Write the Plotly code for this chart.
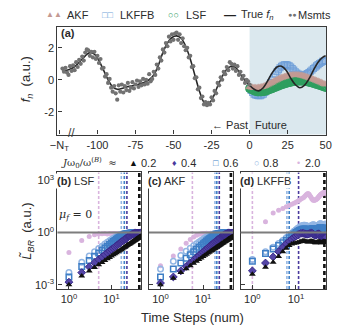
import math
import plotly.graph_objects as go

# ---------------- panel (a) data ----------------
msmt_steps = list(range(-123, 1))
msmt_f = [0.7, 0.5, 0.75, 0.45, 0.3, 0.85, 0.55, 0.9, 0.6, 1.1,
          0.8, 1.25, 1.0, 1.45, 1.2, 1.7, 1.9, 1.85, 1.5, 1.75,
          1.4, 1.75, 1.3, 1.5, 1.05, 1.3, 0.7, 0.75, 0.2, 0.35,
          -0.2, 0.05, -0.5, -0.75, -0.4, -0.85, -1.25, -0.35, -0.75, -0.3,
          -0.8, -0.4, -0.65, -0.2, -0.7, -0.5, -0.15, -0.55, -0.3, -0.05,
          -0.45, -0.1, -0.35, 0.05, -0.3, 0.0, -0.25, 0.35, -0.1, 0.05,
          0.5, 0.3, 0.95, 0.7, 1.4, 1.2, 1.9, 1.7, 2.3, 2.1,
          2.7, 2.4, 2.85, 2.5, 2.9, 2.95, 2.5, 2.85, 2.3, 2.6,
          2.1, 1.85, 2.0, 1.4, 1.5, 0.8, 0.85, 0.1, 0.15, -0.6,
          -0.5, -1.15, -1.05, -1.55, -1.4, -1.6, -1.45, -1.55, -1.1, -1.3,
          -0.7, -0.85, -0.2, -0.35, 0.15, 0.0, 0.5, 0.35, 0.8, 0.6,
          1.1, 1.0, 0.7, 0.95, 0.55, 0.85, 0.3, 0.5, 0.05, 0.25,
          -0.2, 0.0, -0.1, -0.3]

true_steps = [-123, -120, -117, -114, -111, -108, -105, -102, -99, -96,
              -93, -90, -87, -84, -81, -78, -75, -72, -69, -66,
              -63, -60, -57, -54, -51, -48, -45, -42, -39, -36,
              -33, -30, -27, -24, -21, -18, -15, -12, -9, -6,
              -3, 0, 3, 6, 9, 12, 15, 18, 21, 24,
              27, 30, 33, 36, 39, 42, 45, 48, 50]
true_f = [0.6, 0.6, 0.7, 0.9, 1.2, 1.5, 1.7, 1.6, 1.2, 0.6,
          0.0, -0.45, -0.6, -0.55, -0.45, -0.4, -0.35, -0.25, -0.15, 0.0,
          0.3, 0.9, 1.7, 2.3, 2.65, 2.75, 2.6, 2.1, 1.3, 0.3,
          -0.7, -1.4, -1.5, -1.1, -0.4, 0.2, 0.65, 0.85, 0.75, 0.35,
          -0.05, -0.35, -0.6, -0.7, -0.5, -0.05, 0.45, 0.8, 0.85, 0.6,
          0.1, -0.3, -0.5, -0.35, 0.05, 0.6, 1.1, 1.4, 1.5]

future_steps = list(range(0, 51))
lsf_pred = [-0.55, -0.6, -0.65, -0.69, -0.72, -0.75, -0.76, -0.76, -0.75, -0.74,
            -0.72, -0.69, -0.66, -0.62, -0.58, -0.55, -0.51, -0.47, -0.43, -0.39,
            -0.35, -0.32, -0.29, -0.25, -0.22, -0.2, -0.17, -0.15, -0.13, -0.11,
            -0.1, -0.09, -0.08, -0.08, -0.08, -0.08, -0.09, -0.11, -0.13, -0.15,
            -0.18, -0.2, -0.23, -0.26, -0.29, -0.32, -0.35, -0.38, -0.42, -0.45, -0.48]
akf_pred = [-0.45, -0.47, -0.49, -0.5, -0.5, -0.5, -0.49, -0.47, -0.45, -0.42,
            -0.4, -0.35, -0.3, -0.25, -0.2, -0.15, -0.1, -0.05, 0.0, 0.05,
            0.1, 0.13, 0.16, 0.19, 0.22, 0.25, 0.27, 0.28, 0.29, 0.3,
            0.3, 0.3, 0.29, 0.28, 0.27, 0.25, 0.22, 0.19, 0.16, 0.13,
            0.1, 0.06, 0.02, -0.02, -0.06, -0.1, -0.14, -0.18, -0.22, -0.26, -0.3]
lkffb_pred = [-0.55, -0.67, -0.79, -0.9, -0.95, -0.98, -1.0, -1.0, -0.96, -0.9,
              -0.8, -0.66, -0.5, -0.34, -0.17, 0.0, 0.17, 0.34, 0.5, 0.63,
              0.75, 0.85, 0.91, 0.94, 0.95, 0.92, 0.87, 0.8, 0.7, 0.6,
              0.5, 0.42, 0.35, 0.3, 0.28, 0.28, 0.3, 0.34, 0.39, 0.45,
              0.53, 0.61, 0.7, 0.78, 0.87, 0.95, 1.02, 1.08, 1.15, 1.18, 1.2]

xtick_vals_a = [-125, -100, -75, -50, -25, 0, 25, 50]
xtick_text_a = ["\u2212N<sub>T</sub>", "-100", "-75", "-50", "-25", "0", "25", "50"]

# ---------------- panels (b)-(d): log10 of L_BR at time steps 1,2,3,... ----------------
ratio_labels = ["0.2", "0.4", "0.6", "0.8", "2.0"]

lsf_log_02 = [-3.00, -2.50, -2.21, -2.01, -1.85, -1.72, -1.61, -1.51, -1.43, -1.35,
              -1.28, -1.22, -1.16, -1.11, -1.06, -1.01, -0.97, -0.93, -0.89, -0.85,
              -0.82, -0.79, -0.75, -0.72, -0.69, -0.67, -0.64, -0.61, -0.59, -0.56,
              -0.54, -0.52, -0.49, -0.47, -0.45, -0.43, -0.41, -0.39, -0.37, -0.36,
              -0.34, -0.32, -0.31, -0.29, -0.27, -0.26, -0.24, -0.23, -0.21, -0.20]
lsf_log_04 = [-2.85, -2.30, -1.97, -1.73, -1.55, -1.40, -1.27, -1.16, -1.06, -0.98,
              -0.90, -0.83, -0.76, -0.70, -0.64, -0.59, -0.54, -0.49, -0.45, -0.41,
              -0.37, -0.34, -0.30, -0.27, -0.24, -0.21, -0.19, -0.16, -0.14, -0.12,
              -0.10, -0.09, -0.07, -0.06, -0.05, -0.05, -0.04, -0.04, -0.04, -0.03,
              -0.03, -0.03, -0.03, -0.02, -0.02, -0.02, -0.02, -0.02, -0.02, -0.02]
lsf_log_06 = [-2.55, -1.95, -1.60, -1.36, -1.17, -1.02, -0.89, -0.78, -0.68, -0.60,
              -0.52, -0.45, -0.39, -0.33, -0.28, -0.24, -0.20, -0.17, -0.14, -0.12,
              -0.10, -0.08, -0.07, -0.06, -0.05, -0.05, -0.04, -0.04, -0.04, -0.03,
              -0.03, -0.03, -0.03, -0.03, -0.02, -0.02, -0.02, -0.02, -0.02, -0.02,
              -0.02, -0.02, -0.02, -0.02, -0.02, -0.01, -0.01, -0.01, -0.01, -0.01]
lsf_log_08 = [-2.30, -1.70, -1.35, -1.10, -0.92, -0.78, -0.66, -0.56, -0.47, -0.40,
              -0.34, -0.28, -0.24, -0.20, -0.16, -0.13, -0.11, -0.09, -0.07, -0.06,
              -0.05, -0.05, -0.04, -0.04, -0.03, -0.03, -0.03, -0.03, -0.02, -0.02,
              -0.02, -0.02, -0.02, -0.02, -0.02, -0.01, -0.01, -0.01, -0.01, -0.01,
              -0.01, -0.01, -0.01, -0.01, -0.01, -0.01, -0.01, -0.01, -0.01, -0.01]
lsf_log_20 = [-1.15, -0.45, -0.22, -0.12, -0.08, -0.07, -0.06, -0.08, -0.05, -0.07,
              -0.06, -0.05, -0.07, -0.06, -0.05, -0.06, -0.07, -0.05, -0.06, -0.05,
              -0.06, -0.05, -0.07, -0.06, -0.05, -0.06, -0.05, -0.06, -0.07, -0.05,
              -0.06, -0.05, -0.06, -0.05, -0.07, -0.06, -0.05, -0.06, -0.05, -0.06,
              -0.05, -0.06, -0.07, -0.05, -0.06, -0.05, -0.06, -0.05, -0.06, -0.05]

akf_log_02 = [-3.00, -2.62, -2.30, -2.08, -1.91, -1.77, -1.65, -1.55, -1.46, -1.38,
              -1.31, -1.24, -1.18, -1.13, -1.08, -1.03, -0.99, -0.95, -0.91, -0.87,
              -0.83, -0.80, -0.77, -0.74, -0.71, -0.68, -0.65, -0.63, -0.60, -0.58,
              -0.55, -0.53, -0.51, -0.49, -0.47, -0.45, -0.43, -0.41, -0.39, -0.37,
              -0.36, -0.34, -0.33, -0.31, -0.30, -0.28, -0.27, -0.25, -0.24, -0.23]
akf_log_04 = [-2.90, -2.55, -2.20, -1.95, -1.75, -1.58, -1.44, -1.32, -1.21, -1.12,
              -1.03, -0.95, -0.88, -0.81, -0.75, -0.69, -0.64, -0.59, -0.54, -0.50,
              -0.46, -0.42, -0.38, -0.35, -0.31, -0.28, -0.25, -0.22, -0.20, -0.17,
              -0.15, -0.13, -0.11, -0.09, -0.08, -0.07, -0.06, -0.05, -0.05, -0.04,
              -0.04, -0.04, -0.03, -0.03, -0.03, -0.03, -0.02, -0.02, -0.02, -0.02]
akf_log_06 = [-2.55, -2.10, -1.75, -1.48, -1.27, -1.10, -0.96, -0.84, -0.73, -0.64,
              -0.56, -0.49, -0.42, -0.36, -0.31, -0.26, -0.22, -0.18, -0.15, -0.12,
              -0.10, -0.08, -0.07, -0.06, -0.05, -0.05, -0.04, -0.04, -0.03, -0.03,
              -0.03, -0.03, -0.02, -0.02, -0.02, -0.02, -0.02, -0.02, -0.02, -0.02,
              -0.02, -0.02, -0.01, -0.01, -0.01, -0.01, -0.01, -0.01, -0.01, -0.01]
akf_log_08 = [-2.10, -1.65, -1.32, -1.08, -0.90, -0.76, -0.64, -0.54, -0.45, -0.38,
              -0.32, -0.27, -0.22, -0.18, -0.15, -0.12, -0.10, -0.08, -0.06, -0.05,
              -0.05, -0.04, -0.04, -0.03, -0.03, -0.03, -0.02, -0.02, -0.02, -0.02,
              -0.02, -0.02, -0.01, -0.01, -0.01, -0.01, -0.01, -0.01, -0.01, -0.01,
              -0.01, -0.01, -0.01, -0.01, -0.01, -0.01, -0.01, -0.01, -0.01, -0.01]
akf_log_20 = [-1.90, -1.35, -0.95, -0.62, -0.40, -0.25, -0.16, -0.10, -0.07, -0.05,
              -0.06, -0.04, -0.05, -0.06, -0.04, -0.05, -0.04, -0.06, -0.05, -0.04,
              -0.05, -0.04, -0.05, -0.06, -0.04, -0.05, -0.04, -0.05, -0.04, -0.05,
              -0.04, -0.05, -0.04, -0.05, -0.06, -0.04, -0.05, -0.04, -0.05, -0.04,
              -0.05, -0.04, -0.05, -0.04, -0.05, -0.04, -0.05, -0.04, -0.05, -0.04]

lkffb_log_02 = [-2.40, -2.00, -1.70, -1.38, -1.10, -0.90, -0.75, -0.66, -0.62, -0.60,
                -0.57, -0.54, -0.51, -0.49, -0.48, -0.49, -0.51, -0.53, -0.54, -0.53,
                -0.52, -0.50, -0.50, -0.51, -0.53, -0.55, -0.57, -0.58, -0.58, -0.57,
                -0.56, -0.55, -0.54, -0.54, -0.55, -0.56, -0.57, -0.58, -0.58, -0.57,
                -0.56, -0.55, -0.54, -0.53, -0.53, -0.54, -0.55, -0.56, -0.56, -0.55]
lkffb_log_04 = [-2.20, -1.75, -1.40, -1.10, -0.85, -0.65, -0.50, -0.38, -0.28, -0.20,
                -0.13, -0.08, -0.05, -0.04, -0.05, -0.07, -0.09, -0.10, -0.09, -0.07,
                -0.05, -0.04, -0.04, -0.06, -0.09, -0.12, -0.14, -0.15, -0.14, -0.12,
                -0.10, -0.08, -0.07, -0.08, -0.10, -0.14, -0.19, -0.24, -0.28, -0.30,
                -0.30, -0.28, -0.25, -0.22, -0.20, -0.19, -0.20, -0.22, -0.25, -0.27]
lkffb_log_06 = [-1.65, -1.20, -0.95, -0.75, -0.58, -0.44, -0.30, -0.18, -0.08, 0.00,
                0.07, 0.12, 0.16, 0.19, 0.21, 0.21, 0.20, 0.18, 0.16, 0.15,
                0.16, 0.18, 0.20, 0.22, 0.23, 0.22, 0.20, 0.18, 0.16, 0.15,
                0.15, 0.17, 0.20, 0.23, 0.26, 0.28, 0.28, 0.26, 0.23, 0.20,
                0.18, 0.17, 0.18, 0.20, 0.23, 0.25, 0.26, 0.25, 0.23, 0.21]
lkffb_log_08 = [-1.55, -1.10, -0.85, -0.63, -0.45, -0.30, -0.16, -0.04, 0.07, 0.16,
                0.24, 0.31, 0.36, 0.40, 0.42, 0.42, 0.40, 0.37, 0.35, 0.34,
                0.35, 0.38, 0.41, 0.44, 0.45, 0.44, 0.41, 0.38, 0.35, 0.34,
                0.34, 0.36, 0.40, 0.44, 0.48, 0.50, 0.50, 0.48, 0.44, 0.40,
                0.37, 0.36, 0.37, 0.40, 0.44, 0.47, 0.48, 0.47, 0.44, 0.41]
lkffb_log_20 = [0.62, 1.12, 1.28, 1.38, 1.48, 1.55, 1.62, 1.68, 1.74,
                1.80, 1.86, 1.92, 1.97, 2.02, 2.08, 2.15, 2.22, 2.25, 2.20,
                2.12, 2.04, 1.96, 1.90, 1.86, 1.85, 1.86, 1.88, 1.90, 1.93,
                1.96, 2.00, 2.04, 2.08, 2.12, 2.15, 2.18, 2.20, 2.22, 2.24,
                2.26, 2.28, 2.30, 2.30, 2.28, 2.26, 2.27, 2.29, 2.31, 2.32]

first_step = {"LSF": [1, 1, 1, 1, 1], "AKF": [1, 1, 1, 1, 1], "LKFFB": [1, 1, 1, 1, 2]}

# time steps of the vertical dashed markers (same order as ratio_labels)
lsf_vlines = [45, 23, 20, 17, 5.0]
akf_vlines = [45, 24, 21, 19, 5.6]
lkffb_vlines = [45, 11.5, 7.0, 6.2, 1.0]

# ---------------- styles / geometry ----------------
FONT = "Liberation Sans, Arial, sans-serif"
SERIF = "DejaVu Serif, serif"
TXT = "#2b2b2b"
AX = "#3a3a3a"
C_AKF = "#c39a93"
C_LKFFB = "#6f9fd8"
C_LSF = "#2f9e5f"
C_MS = "#727272"
series_style = [
    dict(color="#111111", symbol="triangle-up", size=6, line=dict(width=0)),
    dict(color="#5444a6", symbol="diamond", size=6, line=dict(width=1, color="#3a2c8c")),
    dict(color="#3f7fc6", symbol="square-open", size=5.5, line=dict(width=1.5)),
    dict(color="#93b6e4", symbol="circle-open", size=5.5, line=dict(width=1.5)),
    dict(color="#d9b4de", symbol="circle", size=5, line=dict(width=0)),
]
vline_colors = ["#111111", "#4a3a9e", "#3f7fc6", "#93b6e4", "#d9b4de"]

OFF = 8              # page body margin
W, H = 343 - OFF, 330 - OFF
def px(x):
    return (x - OFF) / W
def py(y):
    return 1 - (y - OFF) / H

XR_LOG = [-0.27, 1.70]
YR_LOG = [-3.25, 3.45]
def fx(logv):
    return (logv - XR_LOG[0]) / (XR_LOG[1] - XR_LOG[0])
def fy(logv):
    return (logv - YR_LOG[0]) / (YR_LOG[1] - YR_LOG[0])

fig = go.Figure()

# ---- panel (a)
fig.add_trace(go.Scatter(x=future_steps, y=lkffb_pred, mode="markers", xaxis="x", yaxis="y",
                         marker=dict(symbol="square-open", size=6, color=C_LKFFB, opacity=0.9,
                                     line=dict(width=1.1)),
                         showlegend=False))
fig.add_trace(go.Scatter(x=future_steps, y=lsf_pred, mode="markers", xaxis="x", yaxis="y",
                         marker=dict(symbol="circle-open", size=7, color=C_LSF, line=dict(width=2)),
                         showlegend=False))
fig.add_trace(go.Scatter(x=future_steps, y=akf_pred, mode="markers", xaxis="x", yaxis="y",
                         marker=dict(symbol="triangle-up", size=8, color=C_AKF, opacity=0.85),
                         showlegend=False))
fig.add_trace(go.Scatter(x=true_steps, y=true_f, mode="lines", xaxis="x", yaxis="y",
                         line=dict(color="#262626", width=1.6, shape="spline", smoothing=1.0),
                         showlegend=False))
fig.add_trace(go.Scatter(x=msmt_steps, y=msmt_f, mode="markers", xaxis="x", yaxis="y",
                         marker=dict(size=4.2, color=C_MS), showlegend=False))

# ---- panels (b)-(d)
panels = [
    ("LSF", [lsf_log_02, lsf_log_04, lsf_log_06, lsf_log_08, lsf_log_20], lsf_vlines, "x2", "y2"),
    ("AKF", [akf_log_02, akf_log_04, akf_log_06, akf_log_08, akf_log_20], akf_vlines, "x3", "y3"),
    ("LKFFB", [lkffb_log_02, lkffb_log_04, lkffb_log_06, lkffb_log_08, lkffb_log_20], lkffb_vlines, "x4", "y4"),
]
shapes = [dict(type="rect", xref="x", yref="y domain", x0=0, x1=50.5, y0=0, y1=1,
               fillcolor="#dbe8ee", line=dict(width=0), layer="below")]
for name, series, vlines, xa, ya in panels:
    for k in [4, 3, 2, 1, 0]:
        vals = series[k]
        start = first_step[name][k]
        steps = list(range(start, start + len(vals)))
        st = series_style[k]
        fig.add_trace(go.Scatter(x=steps, y=[10 ** v for v in vals], mode="markers",
                                 xaxis=xa, yaxis=ya, cliponaxis=True,
                                 marker=dict(symbol=st["symbol"], size=st["size"], color=st["color"],
                                             line=st["line"]),
                                 showlegend=False))
    for k, n in enumerate(vlines):
        black = k == 0
        xf = fx(math.log10(n))
        shapes.append(dict(type="line", xref=xa + " domain", yref=ya + " domain",
                           x0=xf, x1=xf, y0=0, y1=1,
                           line=dict(color=vline_colors[k], width=2.6 if black else 1.6,
                                     dash="4px,3px" if black else "3px,2px"),
                           layer="below"))
    shapes.append(dict(type="line", xref=xa + " domain", yref=ya + " domain", x0=0, x1=1,
                       y0=fy(0), y1=fy(0), line=dict(color="#7d7d7d", width=2), layer="above"))

axis_common = dict(showgrid=False, zeroline=False, showline=True, mirror=True,
                   linecolor=AX, linewidth=1.3, ticks="inside", ticklen=4, tickcolor=AX,
                   tickfont=dict(family=FONT, size=11, color=TXT))

ydom_b = [py(290), py(173)]
xdoms = [[px(52), px(139)], [px(147), px(234)], [px(242), px(331)]]

layout = dict(
    width=W, height=H, margin=dict(l=0, r=0, t=0, b=0),
    paper_bgcolor="white", plot_bgcolor="white",
    font=dict(family=FONT, color=TXT),
    showlegend=False,
    shapes=shapes,
    xaxis=dict(axis_common, domain=[px(52), px(331)], range=[-126.3, 50.5], anchor="y",
               tickvals=xtick_vals_a, ticktext=xtick_text_a),
    yaxis=dict(axis_common, domain=[py(135), py(27)], range=[-3.44, 3.31], anchor="x",
               tickvals=[-2, 0, 2], ticktext=["-2", "0", "2"]),
)
for i, (xa, ya) in enumerate([("x2", "y2"), ("x3", "y3"), ("x4", "y4")]):
    layout["xaxis" + xa[1:]] = dict(axis_common, type="log", domain=xdoms[i], range=XR_LOG, anchor=ya,
                                    tickvals=[1, 10], ticktext=["10<sup>0</sup>", "10<sup>1</sup>"])
    layout["yaxis" + ya[1:]] = dict(axis_common, type="log", domain=ydom_b, range=YR_LOG, anchor=xa,
                                    tickvals=[0.001, 1, 1000],
                                    ticktext=["10<sup>-3</sup>", "10<sup>0</sup>", "10<sup>3</sup>"],
                                    showticklabels=(i == 0))
fig.update_layout(**layout)

ann = []
def A(text, x, y, size=11, color=TXT, family=FONT, **kw):
    ann.append(dict(text=text, x=px(x), y=py(y), xref="paper", yref="paper",
                    xanchor="center", yanchor="middle", showarrow=False,
                    font=dict(family=family, size=size, color=color), **kw))

# top legend
A("▲▲", 48, 15, size=8, color=C_AKF)
A("AKF", 73, 15)
A("□□", 104, 15, size=9, color=C_LKFFB)
A("LKFFB", 135, 15)
A("○○", 172, 15, size=9, color=C_LSF)
A("LSF", 196, 15)
A("<b>—</b>", 231, 15, size=12, color="#222222")
A("True <i>f<sub>n</sub></i>", 259, 15)
A("●●", 295, 15, size=7, color=C_MS)
A("Msmts", 319, 15)

# ratio legend
A("<i>J</i>ω<sub>0</sub>/ω<sup>(<i>B</i>)</sup>  ≈", 85, 163, size=10, family=SERIF)
leg_syms = ["▲", "♦", "□", "○", "•"]
leg_sym_x = [131, 173, 216, 258, 302]
for k in range(5):
    A(leg_syms[k], leg_sym_x[k], 163, size=9, color=vline_colors[k])
    A(ratio_labels[k], leg_sym_x[k] + 15, 163)

# axis titles
A("<i>f<sub>n</sub></i>  (a.u.)", 20, 80, size=13, textangle=-90)
A("<i>L̃<sub>BR</sub></i>  (a.u.)", 21, 232, size=13, textangle=-90)
A("Time Steps (num)", 192, 318, size=13)

# panel annotations
A("<b>(a)</b>", 63, 33)
A("← Past", 231, 125)
A("Future", 274, 125)
A("//", 67, 133, size=12, color=AX)
A("<b>(b)</b> LSF", 71, 182, bgcolor="white")
A("<b>(c)</b> AKF", 166, 182, bgcolor="white")
A("<b>(d)</b> LKFFB", 268, 182, bgcolor="white")
A("<i>μ<sub>f</sub></i> = 0", 71, 216, family=SERIF)

fig.update_layout(annotations=ann)
fig.write_html("out.html")
